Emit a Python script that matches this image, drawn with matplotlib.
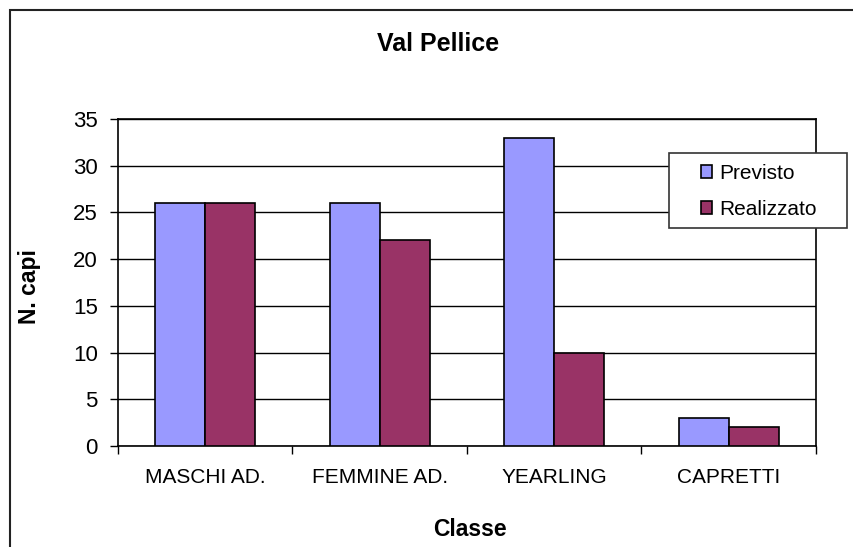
import numpy as np
import matplotlib
matplotlib.use('Agg')
import matplotlib.pyplot as plt
from matplotlib.patches import Rectangle

# data
categories = ['MASCHI AD.', 'FEMMINE AD.', 'YEARLING', 'CAPRETTI']
previsto = [26, 26, 33, 3]
realizzato = [26, 22, 10, 2]
series_names = ['Previsto', 'Realizzato']

plt.rcParams['font.family'] = ['Liberation Sans', 'DejaVu Sans']

W, H = 854, 547
fig = plt.figure(figsize=(W / 100, H / 100), dpi=100)

# outer chart border (extends past right/bottom edge)
fig.patches.append(Rectangle((10 / W, -0.1), 1.2, 1.1 - 10 / H, transform=fig.transFigure,
                             fill=False, edgecolor='#222222', linewidth=1.5))

ax = fig.add_axes([118 / W, (H - 446) / H, 698 / W, (446 - 119) / H])

x = np.arange(len(categories))
w = 0.2865
ax.bar(x - w / 2, previsto, w, color='#9999FF', edgecolor='black', linewidth=1.2,
       label=series_names[0], zorder=3)
ax.bar(x + w / 2, realizzato, w, color='#993366', edgecolor='black', linewidth=1.2,
       label=series_names[1], zorder=3)

ax.set_xlim(-0.5, len(categories) - 0.5)
ax.set_ylim(0, 35)
ax.set_yticks(np.arange(0, 36, 5))
ax.yaxis.grid(True, color='black', linewidth=1, zorder=0)
ax.tick_params(axis='y', direction='out', length=6, width=1, pad=8.5, labelsize=16)

# category boundaries as major ticks, names on minor ticks
ax.set_xticks(np.arange(-0.5, len(categories), 1.0))
ax.set_xticklabels([])
ax.set_xticks(x, minor=True)
ax.set_xticklabels(categories, minor=True)
ax.tick_params(axis='x', which='major', direction='out', length=6, width=1)
ax.tick_params(axis='x', which='minor', length=0, pad=16, labelsize=15)

for s in ax.spines.values():
    s.set_linewidth(1.2)
    s.set_color('black')

# titles
fig.text(438 / W, 1 - 44 / H, 'Val Pellice', ha='center', va='center',
         fontsize=18, fontweight='bold')
fig.text(30 / W, 1 - 287 / H, 'N. capi', ha='center', va='center', rotation=90,
         fontsize=16.5, fontweight='bold')
fig.text(470 / W, 1 - 529 / H, 'Classe', ha='center', va='center',
         fontsize=16.5, fontweight='bold')

# legend box + legend
fig.patches.append(Rectangle((669 / W, 1 - 228 / H), 178 / W, 75 / H, transform=fig.transFigure,
                             facecolor='white', edgecolor='#333333', linewidth=1.2, zorder=5))
leg = fig.legend(loc='upper left', bbox_to_anchor=(701 / W, 1 - 164 / H), frameon=False,
                 fontsize=15, handlelength=0.55, handleheight=0.55, handletextpad=0.35,
                 labelspacing=0.82, borderpad=0, borderaxespad=0)
leg.set_zorder(6)

fig.savefig('out.png', dpi=100)
